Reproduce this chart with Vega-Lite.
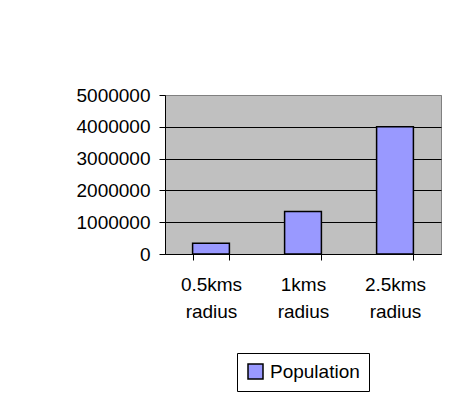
{
  "$schema": "https://vega.github.io/schema/vega-lite/v6.json",
  "width": 276,
  "height": 159,
  "autosize": {"type": "none"},
  "padding": {"left": 165, "top": 95, "right": 15, "bottom": 150},
  "background": "white",
  "data": {"values": [
    {"radius": "0.5kms radius", "population": 340000, "series": "Population"},
    {"radius": "1kms radius", "population": 1340000, "series": "Population"},
    {"radius": "2.5kms radius", "population": 4000000, "series": "Population"}
  ]},
  "mark": {"type": "bar", "stroke": "black", "strokeWidth": 1.5},
  "encoding": {
    "x": {
      "field": "radius", "type": "nominal", "sort": null,
      "scale": {"paddingInner": 0.6, "paddingOuter": 0.3},
      "axis": {"title": null, "labelAngle": 0, "labelExpr": "split(datum.label, ' ')", "tickBand": "extent", "tickSize": 6, "labelPadding": 15, "labelLineHeight": 27, "labelBaseline": "top"}
    },
    "y": {
      "field": "population", "type": "quantitative",
      "scale": {"domain": [0, 5000000], "nice": false},
      "axis": {"title": null, "values": [0, 1000000, 2000000, 3000000, 4000000, 5000000], "format": "d", "tickSize": 6, "labelPadding": 9, "grid": true,
        "gridColor": {"condition": {"test": "datum.value === 5000000", "value": "#808080"}, "value": "black"}}
    },
    "color": {
      "field": "series", "type": "nominal",
      "scale": {"range": ["#9999FF"]},
      "legend": {"title": null, "orient": "none", "legendX": 72, "legendY": 258, "strokeColor": "black", "fillColor": "white", "padding": 9, "symbolType": "square", "symbolSize": 225, "symbolStrokeColor": "black", "symbolStrokeWidth": 1.5, "symbolOpacity": 1, "labelFontSize": 19, "labelOffset": 5}
    }
  },
  "config": {
    "font": "Liberation Sans",
    "view": {"fill": "#C0C0C0", "stroke": "#808080", "strokeWidth": 1},
    "axis": {"labelFont": "Liberation Sans", "labelFontSize": 19, "labelColor": "black", "domainColor": "black", "tickColor": "black", "gridOpacity": 1, "gridWidth": 1},
    "legend": {"labelFont": "Liberation Sans", "labelColor": "black"}
  }
}
